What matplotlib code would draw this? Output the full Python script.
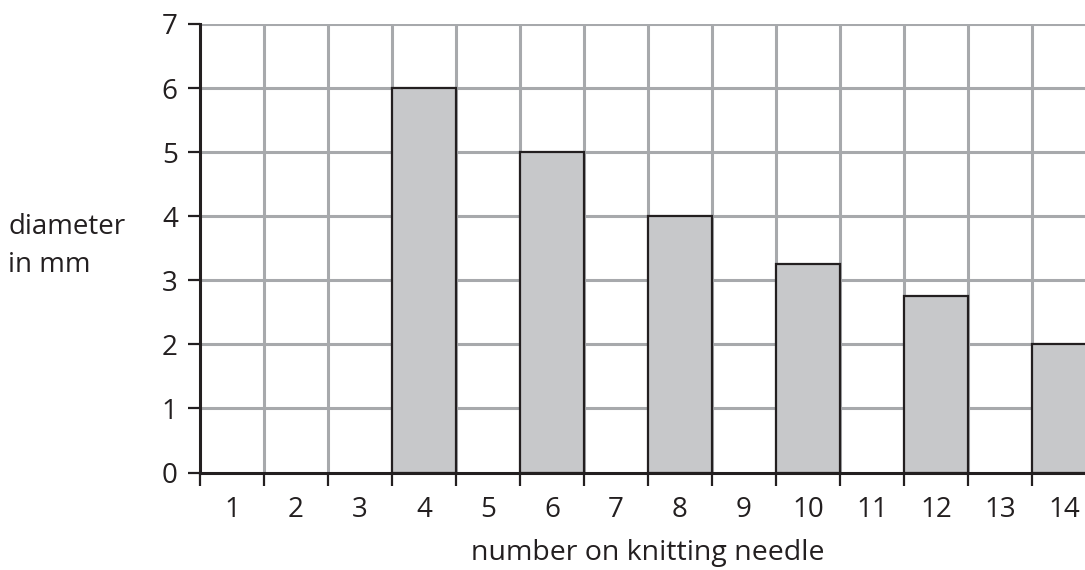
import matplotlib.pyplot as plt
import numpy as np

plt.rcParams['font.family'] = ['Open Sans', 'DejaVu Sans']

# data
needle_numbers = [4, 6, 8, 10, 12, 14]
diameters = [6, 5, 4, 3.25, 2.75, 2]
column_labels = [str(n) for n in range(1, 15)]

W, H = 1085, 570
fig = plt.figure(figsize=(W / 100, H / 100), dpi=100)
# axes spans columns 0..14; right edge falls slightly past the figure
ax = fig.add_axes([200 / W, (H - 472.5) / H, 896 / W, 448.5 / H])

ax.set_xlim(0, 14)
ax.set_ylim(0, 7)

# bars fill the column to the left of each number
ax.bar(np.array(needle_numbers) - 0.5, diameters, width=1.0,
       color="#c7c8ca", edgecolor="#231f20", linewidth=1.6, zorder=3)

# grid
for x in range(1, 15):
    ax.axvline(x, color="#a7a9ac", linewidth=2.2, zorder=1)
for y in range(1, 8):
    ax.axhline(y, color="#a7a9ac", linewidth=2.2, zorder=1)

for side in ["top", "right"]:
    ax.spines[side].set_visible(False)
for side in ["left", "bottom"]:
    ax.spines[side].set_linewidth(2.2)
    ax.spines[side].set_color("#231f20")
    ax.spines[side].set_zorder(4)

ax.set_yticks(range(0, 8))
ax.tick_params(axis="y", direction="out", length=9, width=1.6,
               color="#231f20", labelsize=20, pad=7, labelcolor="#231f20")

ax.set_xticks(range(0, 15))
ax.set_xticklabels([])
ax.tick_params(axis="x", which="major", direction="out", length=9,
               width=1.6, color="#231f20")
ax.set_xticks(np.arange(0.5, 14, 1), minor=True)
ax.set_xticklabels(column_labels, minor=True)
ax.tick_params(axis="x", which="minor", length=0, labelsize=20, pad=17,
               labelcolor="#231f20")

fig.text(8 / W, 1 - 246 / H, "diameter\nin mm", fontsize=20, ha="left",
         va="center", linespacing=1.45, color="#231f20")
fig.text(648 / W, 1 - 553 / H, "number on knitting needle", fontsize=20.5,
         ha="center", va="center", color="#231f20")

fig.savefig("out.png", dpi=100)
